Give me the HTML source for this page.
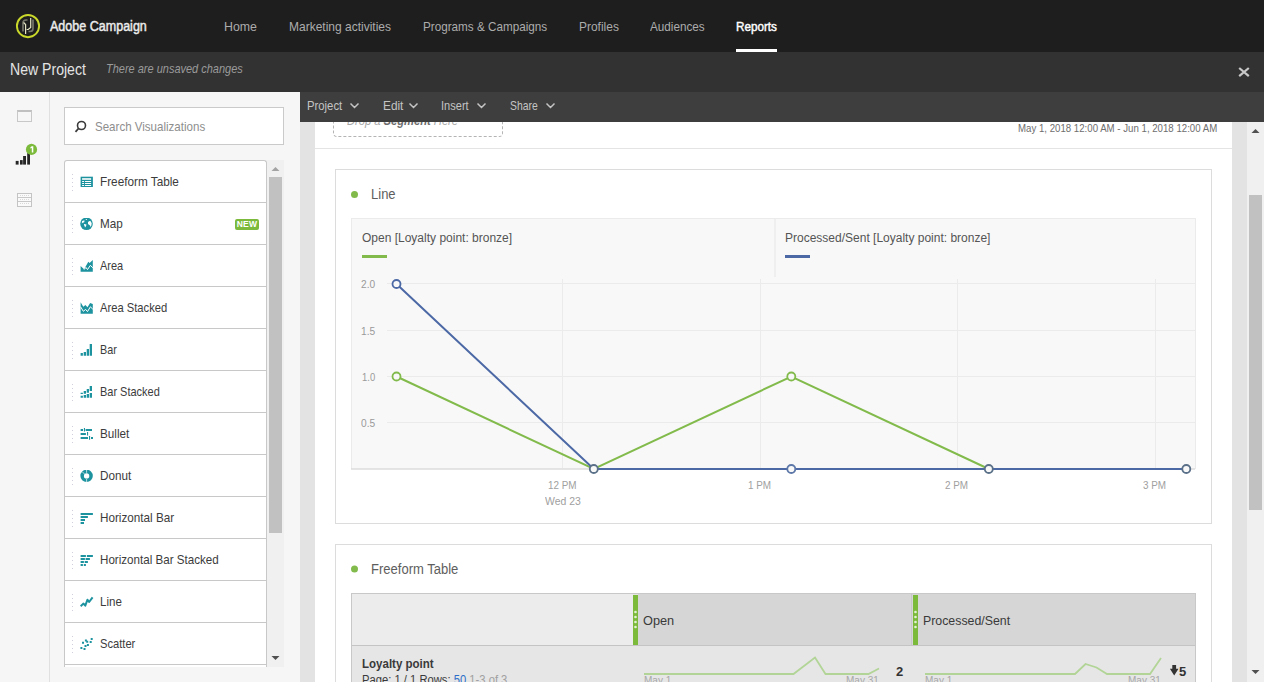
<!DOCTYPE html>
<html><head><meta charset="utf-8">
<style>
*{margin:0;padding:0;box-sizing:border-box}
html,body{width:1264px;height:682px;overflow:hidden;background:#fff;font-family:"Liberation Sans",sans-serif}
.a{position:absolute}
.t{position:absolute;white-space:nowrap;transform-origin:0 0}
</style></head><body>
<!-- top nav -->
<div class="a" style="left:0;top:0;width:1264px;height:52px;background:#1e1e1e"></div>
<svg class="a" style="left:0;top:0" width="60" height="52">
  <circle cx="28" cy="26.1" r="11.1" fill="none" stroke="#c9d82a" stroke-width="1.9"/>
  <path d="M23 31.5 V23 q0-3 3-3 h1.5" fill="none" stroke="#76766a" stroke-width="1.7"/>
  <path d="M33 19.5 V28.5 q0 3-3 3 h-1.5" fill="none" stroke="#76766a" stroke-width="1.7"/>
  <path d="M25.6 34 V24.5 l-2-2 M30.7 18 V27.5 l-2.5 2 h-1.5" fill="none" stroke="#e4e4c4" stroke-width="1.2"/>
</svg>
<div class="t" style="left:50px;top:19px;font-size:14px;line-height:14px;font-weight:normal;-webkit-text-stroke:0.45px #ececec;color:#ececec;transform:scaleX(0.895)">Adobe Campaign</div>
<div class="t" style="left:224px;top:20px;font-size:13px;line-height:13px;color:#acacac;transform:scaleX(0.95)">Home</div>
<div class="t" style="left:289px;top:20px;font-size:13px;line-height:13px;color:#acacac;transform:scaleX(0.923)">Marketing activities</div>
<div class="t" style="left:423px;top:20px;font-size:13px;line-height:13px;color:#acacac;transform:scaleX(0.9)">Programs &amp; Campaigns</div>
<div class="t" style="left:579px;top:20px;font-size:13px;line-height:13px;color:#acacac;transform:scaleX(0.92)">Profiles</div>
<div class="t" style="left:650px;top:20px;font-size:13px;line-height:13px;color:#acacac;transform:scaleX(0.9)">Audiences</div>
<div class="t" style="left:736px;top:20px;font-size:13px;line-height:13px;font-weight:normal;-webkit-text-stroke:0.45px #fff;color:#ffffff;transform:scaleX(0.9)">Reports</div>
<div class="a" style="left:736px;top:49px;width:41px;height:3px;background:#fff"></div>

<!-- project bar -->
<div class="a" style="left:0;top:52px;width:1264px;height:40px;background:#323232"></div>
<div class="t" style="left:10px;top:62px;font-size:16px;line-height:16px;color:#e4e4e4;transform:scaleX(0.88)">New Project</div>
<div class="t" style="left:106px;top:62px;font-size:13px;line-height:13px;font-style:italic;color:#9a9a9a;transform:scaleX(0.845)">There are unsaved changes</div>
<svg class="a" style="left:1236px;top:64px" width="16" height="16"><path d="M3.2 4 L12.8 12.2 M12.8 4 L3.2 12.2" stroke="#c8c8c8" stroke-width="2.2"/></svg>

<!-- left rail -->
<div class="a" style="left:0;top:92px;width:50px;height:590px;background:#f6f6f6;border-right:1px solid #e0e0e0"></div>
<div class="a" style="left:17px;top:110px;width:15px;height:12px;border:1px solid #c8c8c8;border-top:2px solid #c0c0c0"></div>
<svg class="a" style="left:10px;top:140px" width="30" height="30">
  <rect x="5.7" y="20.9" width="2.9" height="3.7" fill="#262626"/>
  <rect x="10" y="20.1" width="2.7" height="4.5" fill="#262626"/>
  <rect x="13.1" y="16" width="2.9" height="8.6" fill="#262626"/>
  <rect x="17.2" y="13.1" width="2.8" height="11.5" fill="#262626"/>
  <circle cx="21.5" cy="9.4" r="5.6" fill="#7cba3c"/>
  <path d="M21.8 6.3 h1.5 v6.2 h-1.5 v-4.6 l-1.4 0.6 v-1.3 z" fill="#fff"/>
</svg>
<div class="a" style="left:17px;top:193px;width:15px;height:14px;border:1.5px solid #c4c4c4;background:#fafafa"></div>
<div class="a" style="left:18px;top:197px;width:13px;height:1px;background:#c8c8c8"></div>
<div class="a" style="left:18px;top:201px;width:13px;height:1px;background:#c8c8c8"></div>
<div class="a" style="left:20px;top:195px;width:9px;height:1px;border-top:1px dotted #d8d8d8"></div>
<div class="a" style="left:20px;top:199px;width:9px;height:1px;border-top:1px dotted #d8d8d8"></div>
<div class="a" style="left:20px;top:203px;width:9px;height:1px;border-top:1px dotted #d8d8d8"></div>

<!-- panel -->
<div class="a" style="left:50px;top:92px;width:250px;height:590px;background:#f6f6f6"></div>
<div class="a" style="left:64px;top:107px;width:220px;height:38px;background:#fff;border:1px solid #cacaca"></div>
<svg class="a" style="left:70.5px;top:116.7px" width="20" height="20">
  <circle cx="10.5" cy="8.5" r="4" fill="none" stroke="#3a3a3a" stroke-width="1.6"/>
  <path d="M7.5 11.5 L4.5 14.8" stroke="#3a3a3a" stroke-width="1.8"/>
</svg>
<div class="t" style="left:95px;top:120px;font-size:13px;line-height:13px;color:#8e8e8e;transform:scaleX(0.888)">Search Visualizations</div>

<div id="list" class="a" style="left:64px;top:160px;width:203px;height:507px;background:#fff;border:1px solid #c8c8c8;border-bottom:none;border-radius:3px 3px 0 0;overflow:hidden"></div>
<!--LIST-->
<svg class="a" style="left:80px;top:176px" width="14" height="14"><rect x="0.6" y="0.7" width="12.3" height="10.3" fill="#1e93a0"/><rect x="2.1" y="2.2" width="9" height="1.6" fill="#fff"/><path d="M2.1 5h2v1h-2z M5 5h6.1v1h-6.1z M2.1 7h2v1h-2z M5 7h6.1v1h-6.1z M2.1 9h2v1h-2z M5 9h6.1v1h-6.1z" fill="#fff"/></svg>
<div class="t" style="left:100px;top:175px;font-size:13px;line-height:13px;color:#3c3c3c;transform:scaleX(0.905)">Freeform Table</div>
<svg class="a" style="left:71px;top:173px" width="3" height="20"><path d="M1.5 1v1M1.5 5v1M1.5 9v1M1.5 13v1M1.5 17v1" stroke="#d0d0dc" stroke-width="1"/></svg>
<div class="a" style="left:65px;top:202px;width:202px;height:1px;background:#c8c8c8"></div>
<svg class="a" style="left:80px;top:218px" width="14" height="14"><circle cx="6.5" cy="5.8" r="6.3" fill="#1e93a0"/><path d="M2 3.2 q1-1 2.6-0.6 l-0.4 1.6 -1.5 0.6 -0.9 0.6z M5.8 1.1 h1 v0.8 h-1z M4.1 6 l2.4 0.6 -0.5 1.6 -1 1.4 -0.5-1.8 -0.6-0.8z M8 4 l1.5-1 1.2 0.3 1 2 -0.3 2.2 -0.9 1.6 -0.5-1.7 -1-0.6 -1-0.9z" fill="#fff"/></svg>
<div class="t" style="left:100px;top:217px;font-size:13px;line-height:13px;color:#3c3c3c;transform:scaleX(0.9)">Map</div>
<svg class="a" style="left:71px;top:215px" width="3" height="20"><path d="M1.5 1v1M1.5 5v1M1.5 9v1M1.5 13v1M1.5 17v1" stroke="#d0d0dc" stroke-width="1"/></svg>
<div class="a" style="left:65px;top:244px;width:202px;height:1px;background:#c8c8c8"></div>
<svg class="a" style="left:80px;top:260px" width="14" height="14"><path d="M0.6 11.8 V6 L4.1 9.2 L8.3 1.8 L9.6 2.9 L12.8 0 V11.8 Z" fill="#1e93a0"/><path d="M4.1 9.6 L5.9 7.4 L7.5 9.6 L10.4 5.3 L12.8 7.8" fill="none" stroke="#fff" stroke-width="1"/></svg>
<div class="t" style="left:100px;top:259px;font-size:13px;line-height:13px;color:#3c3c3c;transform:scaleX(0.845)">Area</div>
<svg class="a" style="left:71px;top:257px" width="3" height="20"><path d="M1.5 1v1M1.5 5v1M1.5 9v1M1.5 13v1M1.5 17v1" stroke="#d0d0dc" stroke-width="1"/></svg>
<div class="a" style="left:65px;top:286px;width:202px;height:1px;background:#c8c8c8"></div>
<svg class="a" style="left:80px;top:302px" width="14" height="14"><path d="M0.6 0.2 L3.3 4.7 L5.4 3.1 L7.5 5.2 L10.1 1 L12.8 2.1 V11.8 H0.6 Z" fill="#1e93a0"/><path d="M0.6 4.8 L3.3 9.3 L5.6 7.4 L7.5 9.6 L10.4 4.8 L12.8 7.2" fill="none" stroke="#fff" stroke-width="1"/></svg>
<div class="t" style="left:100px;top:301px;font-size:13px;line-height:13px;color:#3c3c3c;transform:scaleX(0.862)">Area Stacked</div>
<svg class="a" style="left:71px;top:299px" width="3" height="20"><path d="M1.5 1v1M1.5 5v1M1.5 9v1M1.5 13v1M1.5 17v1" stroke="#d0d0dc" stroke-width="1"/></svg>
<div class="a" style="left:65px;top:328px;width:202px;height:1px;background:#c8c8c8"></div>
<svg class="a" style="left:80px;top:344px" width="14" height="14"><path d="M0.6 8.9h2.3v2.9h-2.3z M3.7 8h2.3v3.8h-2.3z M6.7 5h2.3v6.8h-2.3z M9.7 0h2.3v11.8h-2.3z" fill="#1e93a0"/></svg>
<div class="t" style="left:100px;top:343px;font-size:13px;line-height:13px;color:#3c3c3c;transform:scaleX(0.83)">Bar</div>
<svg class="a" style="left:71px;top:341px" width="3" height="20"><path d="M1.5 1v1M1.5 5v1M1.5 9v1M1.5 13v1M1.5 17v1" stroke="#d0d0dc" stroke-width="1"/></svg>
<div class="a" style="left:65px;top:370px;width:202px;height:1px;background:#c8c8c8"></div>
<svg class="a" style="left:80px;top:386px" width="14" height="14"><path d="M0.6 6.8h2.3v1.1h-2.3z M0.6 9.7h2.3v2.1h-2.3z M3.7 5h2.3v2.7h-2.3z M3.7 8.9h2.3v2.9h-2.3z M6.7 3h2.3v3.8h-2.3z M6.7 8h2.3v3.8h-2.3z M9.7 0h2.3v5h-2.3z M9.7 7h2.3v4.8h-2.3z" fill="#1e93a0"/></svg>
<div class="t" style="left:100px;top:385px;font-size:13px;line-height:13px;color:#3c3c3c;transform:scaleX(0.844)">Bar Stacked</div>
<svg class="a" style="left:71px;top:383px" width="3" height="20"><path d="M1.5 1v1M1.5 5v1M1.5 9v1M1.5 13v1M1.5 17v1" stroke="#d0d0dc" stroke-width="1"/></svg>
<div class="a" style="left:65px;top:412px;width:202px;height:1px;background:#c8c8c8"></div>
<svg class="a" style="left:80px;top:428px" width="14" height="14"><path d="M0.6 0.9h2.4v2.1h-2.4z M5.6 0.9h6.4v2.1h-6.4z M3.9 0h1.1v3.6h-1.1z M0.6 5h5.3v2h-5.3z M7 4h1.1v3.6h-1.1z M0.6 9h7.4v2h-7.4z M9 8h1.1v3.8h-1.1z M11 9h2v2h-2z" fill="#1e93a0"/></svg>
<div class="t" style="left:100px;top:427px;font-size:13px;line-height:13px;color:#3c3c3c;transform:scaleX(0.9)">Bullet</div>
<svg class="a" style="left:71px;top:425px" width="3" height="20"><path d="M1.5 1v1M1.5 5v1M1.5 9v1M1.5 13v1M1.5 17v1" stroke="#d0d0dc" stroke-width="1"/></svg>
<div class="a" style="left:65px;top:454px;width:202px;height:1px;background:#c8c8c8"></div>
<svg class="a" style="left:80px;top:470px" width="14" height="14"><circle cx="6.6" cy="5.9" r="4.45" fill="none" stroke="#1e93a0" stroke-width="3.5"/><path d="M6.6 -0.5 V2.8 M6.6 8.9 V12.5 M2.3 1.8 L4.5 4" stroke="#fff" stroke-width="0.7"/></svg>
<div class="t" style="left:100px;top:469px;font-size:13px;line-height:13px;color:#3c3c3c;transform:scaleX(0.9)">Donut</div>
<svg class="a" style="left:71px;top:467px" width="3" height="20"><path d="M1.5 1v1M1.5 5v1M1.5 9v1M1.5 13v1M1.5 17v1" stroke="#d0d0dc" stroke-width="1"/></svg>
<div class="a" style="left:65px;top:496px;width:202px;height:1px;background:#c8c8c8"></div>
<svg class="a" style="left:80px;top:512px" width="14" height="14"><path d="M0.6 1h12.3v2h-12.3z M0.6 4h7.3v2h-7.3z M0.6 7h4.4v2h-4.4z M0.6 10h3.4v2h-3.4z" fill="#1e93a0"/></svg>
<div class="t" style="left:100px;top:511px;font-size:13px;line-height:13px;color:#3c3c3c;transform:scaleX(0.9)">Horizontal Bar</div>
<svg class="a" style="left:71px;top:509px" width="3" height="20"><path d="M1.5 1v1M1.5 5v1M1.5 9v1M1.5 13v1M1.5 17v1" stroke="#d0d0dc" stroke-width="1"/></svg>
<div class="a" style="left:65px;top:538px;width:202px;height:1px;background:#c8c8c8"></div>
<svg class="a" style="left:80px;top:554px" width="14" height="14"><path d="M0.6 1h5.3v2h-5.3z M6.9 1h6v2h-6z M0.6 4h4.3v2h-4.3z M5.6 4h4.3v2h-4.3z M0.6 7h3.3v2h-3.3z M4.7 7h3.2v2h-3.2z M0.6 10h2.3v2h-2.3z M3.8 10h2.1v2h-2.1z" fill="#1e93a0"/></svg>
<div class="t" style="left:100px;top:553px;font-size:13px;line-height:13px;color:#3c3c3c;transform:scaleX(0.8925)">Horizontal Bar Stacked</div>
<svg class="a" style="left:71px;top:551px" width="3" height="20"><path d="M1.5 1v1M1.5 5v1M1.5 9v1M1.5 13v1M1.5 17v1" stroke="#d0d0dc" stroke-width="1"/></svg>
<div class="a" style="left:65px;top:580px;width:202px;height:1px;background:#c8c8c8"></div>
<svg class="a" style="left:80px;top:596px" width="14" height="14"><path d="M0.6 10.2 L3.5 7.6 L5.3 9.7 L7.5 3.7 L9.1 6 L12.6 1.3" fill="none" stroke="#1e93a0" stroke-width="2" stroke-linejoin="round"/></svg>
<div class="t" style="left:100px;top:595px;font-size:13px;line-height:13px;color:#3c3c3c;transform:scaleX(0.89)">Line</div>
<svg class="a" style="left:71px;top:593px" width="3" height="20"><path d="M1.5 1v1M1.5 5v1M1.5 9v1M1.5 13v1M1.5 17v1" stroke="#d0d0dc" stroke-width="1"/></svg>
<div class="a" style="left:65px;top:622px;width:202px;height:1px;background:#c8c8c8"></div>
<svg class="a" style="left:80px;top:638px" width="14" height="14"><path d="M0.4 8.9h2v2h-2z M3.5 9.9h2v2h-2z M4.5 6.9h2v2h-2z M6.9 6h2v2h-2z M2 3.8h2v2h-2z M4.9 1.6h2v2h-2z M6.2 2.8h2v2h-2z M9.7 2.9h2v2h-2z M10.7 -0.1h2v2h-2z" fill="#1e93a0"/></svg>
<div class="t" style="left:100px;top:637px;font-size:13px;line-height:13px;color:#3c3c3c;transform:scaleX(0.858)">Scatter</div>
<svg class="a" style="left:71px;top:635px" width="3" height="20"><path d="M1.5 1v1M1.5 5v1M1.5 9v1M1.5 13v1M1.5 17v1" stroke="#d0d0dc" stroke-width="1"/></svg>
<div class="a" style="left:65px;top:664px;width:202px;height:1px;background:#c8c8c8"></div>
<div class="a" style="left:235px;top:219px;width:24px;height:11px;background:#7cba3c;border-radius:2px;color:#fff;font-size:8.5px;line-height:11px;font-weight:bold;text-align:center;letter-spacing:0.3px">NEW</div>
<!--/LIST-->
<div class="a" style="left:267px;top:160px;width:17px;height:507px;background:#f0f0f0"></div>
<div class="a" style="left:269px;top:177px;width:13px;height:356px;background:#c1c1c1"></div>
<svg class="a" style="left:267px;top:160px" width="17" height="506">
  <path d="M4.5 11 L8.5 7 L12.5 11 Z" fill="#a3a3a3"/>
  <path d="M4.5 496 L8.5 500 L12.5 496 Z" fill="#505050"/>
</svg>

<!-- main content -->
<div class="a" style="left:300px;top:122px;width:15px;height:560px;background:#e3e3e3"></div>
<div class="a" style="left:1232px;top:122px;width:15px;height:560px;background:#e3e3e3"></div>
<div class="a" style="left:1247px;top:122px;width:17px;height:560px;background:#f0f0f0"></div>
<div class="a" style="left:1249px;top:195px;width:13px;height:315px;background:#c1c1c1"></div>
<svg class="a" style="left:1247px;top:122px" width="17" height="560">
  <path d="M4.5 11 L8.5 7 L12.5 11 Z" fill="#505050"/>
  <path d="M4.5 548 L8.5 552 L12.5 548 Z" fill="#505050"/>
</svg>
<div class="a" style="left:333px;top:100px;width:170px;height:37px;border:1px dashed #b4b4b4;border-radius:4px"></div>
<div class="t" style="left:347px;top:115px;font-size:12px;line-height:12px;font-style:italic;color:#a8a8a8;transform:scaleX(0.93)">Drop a <b style="color:#6e6e6e">Segment</b> Here</div>
<div class="t" style="left:1018px;top:122px;font-size:11.5px;line-height:12px;color:#6e6e6e;transform:scaleX(0.84)">May 1, 2018 12:00 AM - Jun 1, 2018 12:00 AM</div>
<div class="a" style="left:315px;top:148px;width:917px;height:1px;background:#e4e4e4"></div>

<!-- line panel -->
<div class="a" style="left:335px;top:169px;width:877px;height:355px;border:1px solid #dcdcdc;background:#fff"></div>
<div class="a" style="left:351px;top:218px;width:845px;height:251px;background:#f8f8f8;border:1px solid #ebebeb;border-bottom:none"></div>
<svg class="a" style="left:0;top:0" width="1264" height="682">
  <circle cx="354.5" cy="194.5" r="3.5" fill="#82bb4c"/>
  <line x1="775" y1="219" x2="775" y2="277" stroke="#e6e6e6"/>
  <rect x="362" y="255" width="25" height="3" fill="#82bb4c"/>
  <rect x="785" y="255" width="25" height="3" fill="#4c69a6"/>
  <g stroke="#ebebeb" stroke-width="1">
    <line x1="387" y1="283.5" x2="1195" y2="283.5"/>
    <line x1="387" y1="330.5" x2="1195" y2="330.5"/>
    <line x1="387" y1="376.5" x2="1195" y2="376.5"/>
    <line x1="387" y1="422.5" x2="1195" y2="422.5"/>
    <line x1="562.5" y1="279" x2="562.5" y2="468"/>
    <line x1="760.5" y1="279" x2="760.5" y2="468"/>
    <line x1="957.5" y1="279" x2="957.5" y2="468"/>
    <line x1="1155.5" y1="279" x2="1155.5" y2="468"/>
  </g>
  <line x1="351" y1="469" x2="1195" y2="469" stroke="#dcdcdc" stroke-width="1.5"/>
  <polyline points="396.5,376.5 593.8,469 791.3,376.5 988.8,469" fill="none" stroke="#82bb4c" stroke-width="2"/>
  <polyline points="396.5,284 593.8,469 1186.3,469" fill="none" stroke="#4c69a6" stroke-width="2"/>
  <g fill="#f8f8f8" stroke-width="1.8">
    <circle cx="396.5" cy="376.5" r="4" stroke="#82bb4c"/>
    <circle cx="791.3" cy="376.5" r="4" stroke="#82bb4c"/>
    <circle cx="396.5" cy="284" r="4" stroke="#4c69a6"/>
    <circle cx="593.8" cy="469" r="4" stroke="#5a7088"/>
    <circle cx="791.3" cy="469" r="4" stroke="#5d77a8"/>
    <circle cx="988.8" cy="469" r="4" stroke="#5a7088"/>
    <circle cx="1186.3" cy="469" r="4" stroke="#5a7088"/>
  </g>
</svg>
<div class="t" style="left:371px;top:187px;font-size:14px;line-height:14px;color:#5e5e5e;transform:scaleX(0.93)">Line</div>
<div class="t" style="left:362px;top:232px;font-size:12px;line-height:12px;color:#555">Open [Loyalty point: bronze]</div>
<div class="t" style="left:785px;top:232px;font-size:12px;line-height:12px;color:#555">Processed/Sent [Loyalty point: bronze]</div>
<div class="t" style="left:361px;top:279px;font-size:10.5px;line-height:11px;color:#9a9a9a;transform:scaleX(0.97)">2.0</div>
<div class="t" style="left:361px;top:326px;font-size:10.5px;line-height:11px;color:#9a9a9a;transform:scaleX(0.97)">1.5</div>
<div class="t" style="left:362px;top:372px;font-size:10.5px;line-height:11px;color:#9a9a9a;transform:scaleX(0.9)">1.0</div>
<div class="t" style="left:361px;top:418px;font-size:10.5px;line-height:11px;color:#9a9a9a;transform:scaleX(0.97)">0.5</div>
<div class="t" style="left:548px;top:480px;font-size:11px;line-height:11px;color:#a0a0a0;transform:scaleX(0.9)">12 PM</div>
<div class="t" style="left:545px;top:496px;font-size:11px;line-height:11px;color:#a0a0a0;transform:scaleX(0.95)">Wed 23</div>
<div class="t" style="left:748px;top:480px;font-size:11px;line-height:11px;color:#a0a0a0;transform:scaleX(0.9)">1 PM</div>
<div class="t" style="left:945px;top:480px;font-size:11px;line-height:11px;color:#a0a0a0;transform:scaleX(0.9)">2 PM</div>
<div class="t" style="left:1143px;top:480px;font-size:11px;line-height:11px;color:#a0a0a0;transform:scaleX(0.9)">3 PM</div>

<!-- freeform table panel -->
<div class="a" style="left:335px;top:544px;width:877px;height:160px;border:1px solid #dcdcdc;background:#fff"></div>
<svg class="a" style="left:345px;top:560px" width="20" height="20"><circle cx="9.5" cy="9" r="3.5" fill="#82bb4c"/></svg>
<div class="t" style="left:371px;top:562px;font-size:14px;line-height:14px;color:#5e5e5e;transform:scaleX(0.93)">Freeform Table</div>
<div class="a" style="left:351px;top:593px;width:845px;height:100px;background:#e6e6e6;border:1px solid #c8c8c8"></div>
<div class="a" style="left:352px;top:594px;width:281px;height:51px;background:#ececec"></div>
<div class="a" style="left:638px;top:594px;width:557px;height:51px;background:#d6d6d6"></div>
<div class="a" style="left:911px;top:594px;width:1px;height:51px;background:#c8c8c8"></div>
<div class="a" style="left:352px;top:645px;width:843px;height:1px;background:#c4c4c4"></div>
<div class="a" style="left:633px;top:595px;width:5px;height:50px;background:#7cba3c"></div>
<div class="a" style="left:913px;top:595px;width:5px;height:50px;background:#7cba3c"></div>
<svg class="a" style="left:0;top:0" width="1264" height="682">
  <g fill="#e2f0d4"><circle cx="635.5" cy="612" r="1.35"/><circle cx="635.5" cy="617" r="1.35"/><circle cx="635.5" cy="622" r="1.35"/><circle cx="635.5" cy="627" r="1.35"/>
  <circle cx="915.5" cy="612" r="1.35"/><circle cx="915.5" cy="617" r="1.35"/><circle cx="915.5" cy="622" r="1.35"/><circle cx="915.5" cy="627" r="1.35"/></g>
  <polyline points="644,674 793.5,674 815,657.5 825.5,674 868.5,674 879,668.5" fill="none" stroke="#b2d597" stroke-width="1.8"/>
  <polyline points="925,674 1075,674 1085.5,664 1096.5,667.5 1107,674 1150,674 1161,658" fill="none" stroke="#b2d597" stroke-width="1.8"/>
  <path d="M1172.3 665 h3.8 v3.8 h2.4 l-4.3 6.8 l-4.3 -6.8 h2.4 z" fill="#333"/>
</svg>
<div class="t" style="left:643px;top:614px;font-size:13px;line-height:13px;color:#3a3a3a;transform:scaleX(0.98)">Open</div>
<div class="t" style="left:923px;top:614px;font-size:13px;line-height:13px;color:#3a3a3a;transform:scaleX(0.949)">Processed/Sent</div>
<div class="t" style="left:362px;top:658px;font-size:12px;line-height:12px;font-weight:bold;color:#3a3a3a;transform:scaleX(0.96)">Loyalty point</div>
<div class="t" style="left:362px;top:674px;font-size:12px;line-height:12px;color:#3a3a3a;transform:scaleX(0.935)">Page: 1 / 1 Rows: <span style="color:#2d6ec9">50</span> <span style="color:#a0a0a0">1-3 of 3</span></div>
<div class="t" style="left:896px;top:665px;font-size:13px;line-height:13px;font-weight:bold;color:#333">2</div>
<div class="t" style="left:1179px;top:665px;font-size:13px;line-height:13px;font-weight:bold;color:#333">5</div>
<div class="t" style="left:644px;top:676px;font-size:10px;line-height:10px;color:#a8a8a8">May 1</div>
<div class="t" style="left:846px;top:676px;font-size:10px;line-height:10px;color:#a8a8a8">May 31</div>
<div class="t" style="left:925px;top:676px;font-size:10px;line-height:10px;color:#a8a8a8">May 1</div>
<div class="t" style="left:1128px;top:676px;font-size:10px;line-height:10px;color:#a8a8a8">May 31</div>

<!-- toolbar -->
<div class="a" style="left:300px;top:92px;width:964px;height:30px;background:#3e3e3e"></div>
<div class="t" style="left:307px;top:99px;font-size:13px;line-height:13px;color:#c4c4c4;transform:scaleX(0.87)">Project</div>
<div class="t" style="left:383px;top:99px;font-size:13px;line-height:13px;color:#c4c4c4;transform:scaleX(0.91)">Edit</div>
<div class="t" style="left:441px;top:99px;font-size:13px;line-height:13px;color:#c4c4c4;transform:scaleX(0.85)">Insert</div>
<div class="t" style="left:510px;top:99px;font-size:13px;line-height:13px;color:#c4c4c4;transform:scaleX(0.8)">Share</div>
<svg class="a" style="left:300px;top:92px" width="300" height="30">
  <path d="M50.5 11.5 l4 4 l4 -4 M109.5 11.5 l4 4 l4 -4 M177.5 11.5 l4 4 l4 -4 M246.5 11.5 l4 4 l4 -4" fill="none" stroke="#c4c4c4" stroke-width="1.5"/>
</svg>
</body></html>
